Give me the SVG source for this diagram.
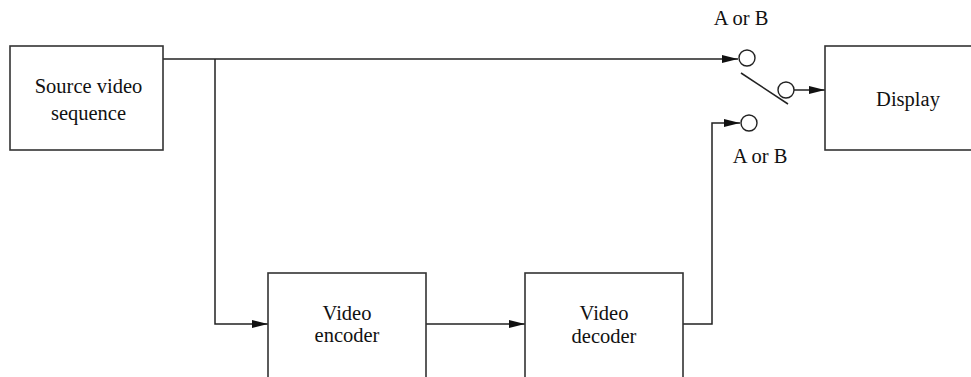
<svg xmlns="http://www.w3.org/2000/svg" width="971" height="377" viewBox="0 0 971 377">
<style>
.box{fill:#fff;stroke:#333;stroke-width:1.6}
.ln{fill:none;stroke:#222;stroke-width:1.5}
.c{fill:#fff;stroke:#222;stroke-width:1.4}
text{font-family:"Liberation Serif","Times New Roman",serif;font-size:20.5px;fill:#111;text-anchor:middle}
</style>
<defs>
<marker id="arr" markerWidth="16" markerHeight="10" refX="16" refY="5" orient="auto" markerUnits="userSpaceOnUse">
<path d="M0,1 L16,5 L0,9 Z" fill="#111"/>
</marker>
</defs>
<rect width="971" height="377" fill="#fff"/>
<g id="connectors">
<path class="ln" d="M163,59 H738" marker-end="url(#arr)"/>
<path class="ln" d="M215,59 V324 H268" marker-end="url(#arr)"/>
<path class="ln" d="M426,324 H525" marker-end="url(#arr)"/>
<path class="ln" d="M683,324 H712 V123 H740" marker-end="url(#arr)"/>
<path class="ln" d="M794,90 H825" marker-end="url(#arr)"/>
<path class="ln" d="M741,73 L788,104"/>
</g>
<g id="source">
<rect class="box" x="10" y="46" width="153" height="104"/>
<text x="88.5" y="93">Source video</text>
<text x="88.5" y="120">sequence</text>
</g>
<g id="encoder">
<rect class="box" x="268" y="273" width="158" height="110"/>
<text x="347" y="320">Video</text>
<text x="347" y="342">encoder</text>
</g>
<g id="decoder">
<rect class="box" x="525" y="273" width="158" height="110"/>
<text x="604" y="320">Video</text>
<text x="604" y="343">decoder</text>
</g>
<g id="display">
<rect class="box" x="825" y="46" width="150" height="104"/>
<text x="908" y="106">Display</text>
</g>
<g id="switch">
<circle class="c" cx="747" cy="58" r="8"/>
<circle class="c" cx="749" cy="123" r="8"/>
<circle class="c" cx="786" cy="90" r="8"/>
<text x="741" y="25">A or B</text>
<text x="760" y="163">A or B</text>
</g>
</svg>
